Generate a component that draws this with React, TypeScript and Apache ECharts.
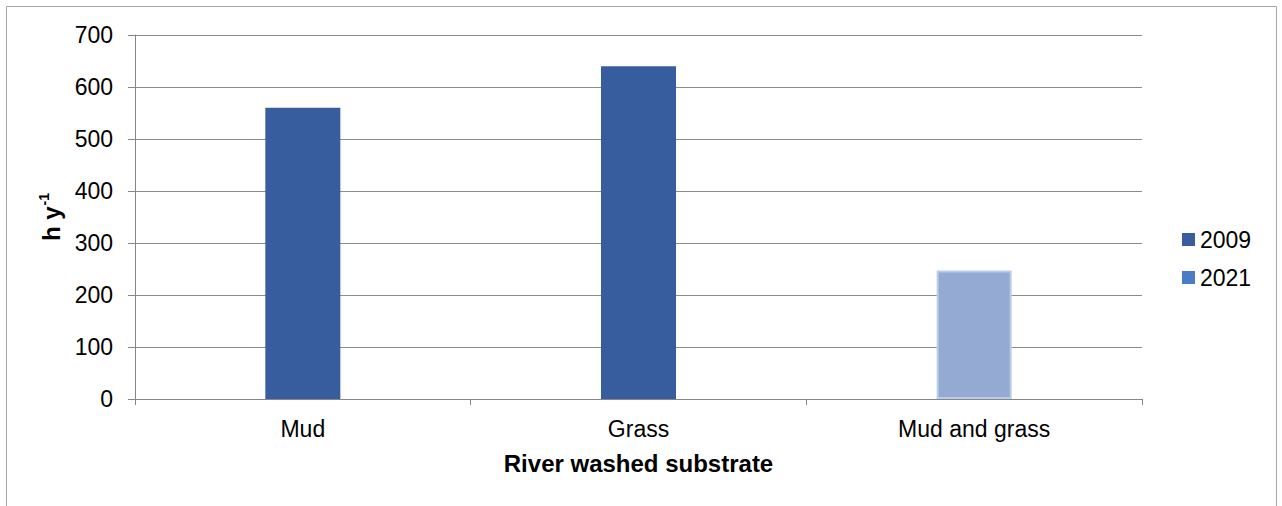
import React, { useEffect, useRef } from "react";
import * as echarts from "echarts";

const categories = ["Mud", "Grass", "Mud and grass"];
const seriesNames = ["2009", "2021"];
const values2009: (number | null)[] = [560, 640, null];
const values2021: (number | null)[] = [null, null, 247];
const yMin = 0;
const yMax = 700;
const yStep = 100;

const FONT = "'Liberation Sans', Arial, sans-serif";
const AXIS_GRAY = "#868686";

export default function App() {
  const ref = useRef<HTMLDivElement>(null);

  useEffect(() => {
    if (!ref.current) return;
    const chart = echarts.init(ref.current, null, { renderer: "svg" });
    const option: any = {
      animation: false,
      backgroundColor: "#ffffff",
      textStyle: { fontFamily: FONT },
      grid: { left: 135, right: 140, top: 35, bottom: 107, containLabel: false },
      legend: {
        orient: "vertical",
        left: 1177,
        top: 223,
        icon: "rect",
        itemWidth: 13,
        itemHeight: 13,
        itemGap: 15,
        textStyle: { fontSize: 23, color: "#000", fontFamily: FONT },
        data: [
          { name: seriesNames[0], itemStyle: { color: "#385D9F" } },
          { name: seriesNames[1], itemStyle: { color: "#4A7BC8" } },
        ],
      },
      xAxis: {
        type: "category",
        data: categories,
        axisLine: { show: true, lineStyle: { color: AXIS_GRAY, width: 1 } },
        axisTick: { show: true, length: 6, lineStyle: { color: AXIS_GRAY } },
        axisLabel: { fontSize: 23, color: "#000", margin: 18, fontFamily: FONT },
        name: "River washed substrate",
        nameLocation: "middle",
        nameGap: 52,
        nameTextStyle: { fontSize: 24, fontWeight: "bold", color: "#000", fontFamily: FONT },
      },
      yAxis: {
        type: "value",
        min: yMin,
        max: yMax,
        interval: yStep,
        axisLine: { show: true, lineStyle: { color: AXIS_GRAY, width: 1 } },
        axisTick: { show: true, length: 7, lineStyle: { color: AXIS_GRAY } },
        axisLabel: { fontSize: 23, color: "#000", margin: 22, fontFamily: FONT },
        splitLine: { show: true, lineStyle: { color: "#8C8C8C", width: 1 } },
        name: "{b|h y}{s|-1}",
        nameLocation: "middle",
        nameGap: 70,
        nameRotate: 90,
        nameTextStyle: {
          color: "#000",
          rich: {
            b: { fontSize: 24, fontWeight: "bold", color: "#000", fontFamily: FONT, lineHeight: 28 },
            s: { fontSize: 14, fontWeight: "bold", color: "#000", fontFamily: FONT, verticalAlign: "top", lineHeight: 28, padding: [0, 0, 0, 1] },
          },
        },
      },
      series: [
        {
          name: seriesNames[0],
          type: "bar",
          data: values2009,
          barWidth: 75,
          barGap: "-100%",
          itemStyle: { color: "#385D9F" },
        },
        {
          name: seriesNames[1],
          type: "bar",
          data: values2021.map((v) =>
            v == null
              ? null
              : { value: v, itemStyle: { color: "#95AAD3", borderColor: "#B9CDE8", borderWidth: 2 } }
          ),
          barWidth: 75,
          barGap: "-100%",
          itemStyle: { color: "#4A7BC8" },
        },
      ],
      graphic: [
        {
          type: "rect",
          silent: true,
          z: -10,
          shape: { x: 6.5, y: 6.5, width: 1270, height: 560 },
          style: { fill: "none", stroke: "#A6A6A6", lineWidth: 1 },
        },
      ],
    };
    chart.setOption(option);
    return () => chart.dispose();
  }, []);

  return (
    <div
      ref={ref}
      style={{ position: "absolute", left: 0, top: 0, width: 1282, height: 506, background: "#fff" }}
    />
  );
}
